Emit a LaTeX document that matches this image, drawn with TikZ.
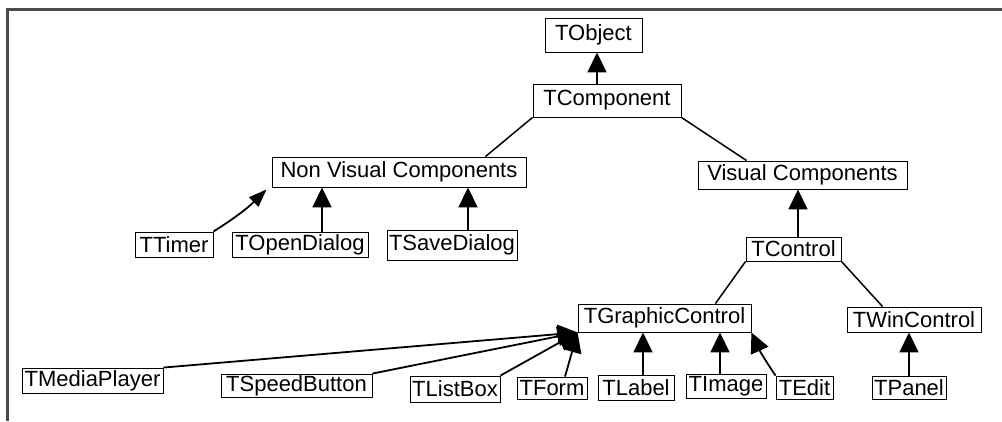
\documentclass[tikz,border=0pt]{standalone}
\usepackage{fontspec}
\setmainfont{Liberation Sans}
\usetikzlibrary{arrows.meta}
\usetikzlibrary{calc}

\tikzset{
	cls/.style={draw, line width=0.9pt, inner sep=1pt, font=\fontsize{22}{24}\selectfont},
	isa/.style={-{Triangle[length=20pt,width=19pt]}, line width=1.8pt},
	link/.style={line width=1.5pt}
}

\begin{document}
\begin{tikzpicture}[x=1pt, y=-1pt]
		\useasboundingbox (0,0) rectangle (1002,421);
		\draw[black!70, line width=2.2pt] (1002,9.5) -- (7.5,9.5) -- (7.5,421);

		\node[cls, minimum width=97pt, minimum height=34pt] (tobj) at (593.5,35) {TObject};
		\node[cls, minimum width=148pt, minimum height=33pt] (tcomp) at (607,100.5) {TComponent};
		\node[cls, minimum width=254pt, minimum height=30pt] (nvc) at (399,172) {Non Visual Components};
		\node[cls, minimum width=209pt, minimum height=28pt] (vc) at (802.5,175) {Visual Components};
		\node[cls, minimum width=95pt, minimum height=24pt] (tctl) at (793.5,249) {TControl};
		\node[cls, minimum width=78pt, minimum height=25pt] (ttim) at (174,244.5) {TTimer};
		\node[cls, minimum width=136pt, minimum height=25pt] (tod) at (300,244.5) {TOpenDialog};
		\node[cls, minimum width=130pt, minimum height=30pt] (tsd) at (452,245) {TSaveDialog};
		\node[cls, minimum width=173pt, minimum height=28pt] (tgc) at (664.5,318) {TGraphicControl};
		\node[cls, minimum width=134pt, minimum height=25pt] (twc) at (914,319.5) {TWinControl};
		\node[cls, minimum width=141pt, minimum height=25pt] (tmp) at (92.5,380.5) {TMediaPlayer};
		\node[cls, minimum width=151pt, minimum height=23pt] (tsb) at (296.5,385.5) {TSpeedButton};
		\node[cls, minimum width=90pt, minimum height=26pt] (tlb) at (455,389) {TListBox};
		\node[cls, minimum width=70pt, minimum height=22pt] (tfrm) at (552,388) {TForm};
		\node[cls, minimum width=76pt, minimum height=25pt] (tlbl) at (636,387.5) {TLabel};
		\node[cls, minimum width=80pt, minimum height=24pt] (timg) at (726,386) {TImage};
		\node[cls, minimum width=57pt, minimum height=23pt] (ted) at (804.5,387.5) {TEdit};
		\node[cls, minimum width=74pt, minimum height=23pt] (tpan) at (909,387.5) {TPanel};

		\draw[isa] ([xshift=-10pt]tcomp.north) -- ([xshift=-10pt]tcomp.north |- tobj.south);
		\draw[link] (tcomp.south west) -- ([xshift=-41pt]nvc.north east);
		\draw[link] (tcomp.south east) -- ([xshift=49pt]vc.north west);

		\draw[isa, -{Triangle[length=18pt,width=13pt]}] (ttim.north east) to[bend right=6] ([xshift=-5pt,yshift=-2pt]nvc.south west);
		\draw[isa] ([xshift=22pt]tod.north) -- ([xshift=22pt]tod.north |- nvc.south);
		\draw[isa] ([xshift=16pt]tsd.north) -- ([xshift=16pt]tsd.north |- nvc.south);

		\draw[isa] ([xshift=4.5pt]tctl.north) -- ([xshift=4.5pt]tctl.north |- vc.south);
		\draw[link] (tctl.south west) -- ([xshift=-36pt]tgc.north east);
		\draw[link] (tctl.south east) -- ([xshift=36pt]twc.north west);

		\draw[isa] (tmp.north east) -- (tgc.south west);
		\draw[isa] (tsb.north east) -- (tgc.south west);
		\draw[isa] (tlb.north east) -- (tgc.south west);
		\draw[isa] ([xshift=13pt]tfrm.north) -- (tgc.south west);
		\draw[isa] ([xshift=7pt]tlbl.north) -- ([xshift=7pt]tlbl.north |- tgc.south);
		\draw[isa] ([xshift=-6pt]timg.north) -- ([xshift=-6pt]timg.north |- tgc.south);
		\draw[isa] (ted.north west) to[bend left=5] (tgc.south east);
		\draw[isa] (tpan.north) -- (tpan.north |- twc.south);
\end{tikzpicture}
\end{document}
